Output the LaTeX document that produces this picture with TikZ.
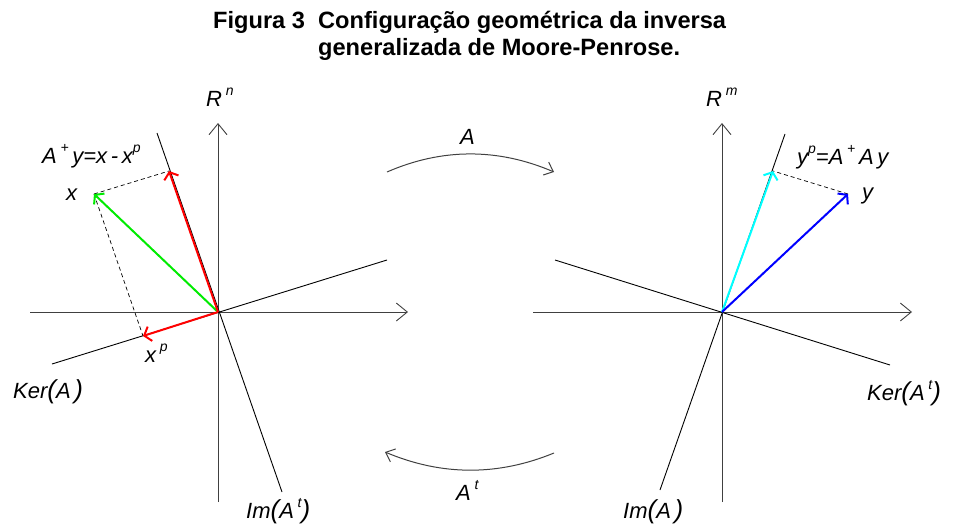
\documentclass[tikz,border=0pt]{standalone}
\usepackage{fontspec}
\setmainfont{Liberation Sans}
\usetikzlibrary{arrows.meta}
\definecolor{vgreen}{RGB}{0,235,0}
\definecolor{vred}{RGB}{255,0,0}
\definecolor{vcyan}{RGB}{0,255,255}
\definecolor{vblue}{RGB}{0,0,255}
\newcommand\lpar{{\fontsize{26}{26}\selectfont(}}
\newcommand\rpar{{\fontsize{26}{26}\selectfont)}}
\newcommand\spx[1]{\raisebox{0.5em}{\fontsize{14}{14}\selectfont\itshape #1}}
\begin{document}
\begin{tikzpicture}[x=1pt,y=-1pt,
  axis/.style={draw=black!75, line width=0.9pt, -{Straight Barb[length=11pt,width=18pt,line width=0.9pt]}},
  subsp/.style={draw=black, line width=0.9pt},
  vec/.style={line width=2pt, -{Straight Barb[length=6pt,width=15pt,line width=2pt]}},
  proj/.style={draw=black, line width=0.7pt, dash pattern=on 4pt off 3pt},
  mapping/.style={draw=black!75, line width=1pt, -{Straight Barb[length=8pt,width=14pt,line width=1pt]}},
  lbl/.style={font=\fontsize{22}{24}\selectfont\itshape, inner sep=0pt, anchor=base west},
  ttl/.style={font=\fontsize{23.6}{26}\selectfont\bfseries, inner sep=0pt, anchor=base west}]
\useasboundingbox (0,0) rectangle (956,525);
% title
\node[ttl] (t1) at (213,28) {Figura 3};
\node[ttl] (t2) at (318,28) {Configuração geométrica da inversa};
\node[ttl] (t3) at (318,55) {generalizada de Moore-Penrose.};
% ---------- left space
\coordinate (O1) at (218,312);
\coordinate (L1l) at (30,312);
\coordinate (L1r) at (408,312);
\coordinate (L1b) at (218,502);
\coordinate (L1t) at (218,123);
\coordinate (K1a) at (52,364);
\coordinate (K1b) at (387,260);
\coordinate (I1a) at (157,133);
\coordinate (I1b) at (282,492);
\coordinate (xp) at (143,336);
\coordinate (xx) at (94,194);
\coordinate (ay) at (169,171);
\draw[axis] (L1l) -- (L1r);
\draw[axis] (L1b) -- (L1t);
\draw[subsp] (K1a) -- (K1b);
\draw[subsp] (I1a) -- (I1b);
\draw[proj] (xx) -- (ay);
\draw[proj] (xx) -- (xp);
\draw[vec, draw=vgreen] (O1) -- (xx);
\draw[vec, draw=vred] (O1) -- (ay);
\draw[vec, draw=vred] (O1) -- (xp);
\node[lbl] (Rn) at (206,106) {R\,\spx{n}};
\node[lbl] (lAy) at (42,163) {A\,\spx{+}\,y=x\,-\,x\spx{p}};
\node[lbl] (lx) at (66,200) {x};
\node[lbl] (lxp) at (145,362) {x\,\spx{p}};
\node[lbl] (lker1) at (13,398) {Ker\lpar A\,\rpar};
\node[lbl] (lim1) at (246,518) {Im\lpar A\,\spx{t}\rpar};
% ---------- right space
\coordinate (O2) at (722,312);
\coordinate (L2l) at (533,312);
\coordinate (L2r) at (912,312);
\coordinate (L2b) at (722,502);
\coordinate (L2t) at (722,123);
\coordinate (K2a) at (555,260);
\coordinate (K2b) at (890,365);
\coordinate (I2a) at (785,134);
\coordinate (I2b) at (660,490);
\coordinate (yp) at (773,171);
\coordinate (yy) at (848,194);
\draw[axis] (L2l) -- (L2r);
\draw[axis] (L2b) -- (L2t);
\draw[subsp] (K2a) -- (K2b);
\draw[subsp] (I2a) -- (I2b);
\draw[proj] (yy) -- (yp);
\draw[vec, draw=vcyan] (O2) -- (yp);
\draw[vec, draw=vblue] (O2) -- (yy);
\node[lbl] (Rm) at (706,106) {R\,\spx{m}};
\node[lbl] (lyp) at (797,164) {y\spx{p}=A\,\spx{+}\,A\,y};
\node[lbl] (ly) at (862,199) {y};
\node[lbl] (lker2) at (867,400) {Ker\lpar A\,\spx{t}\rpar};
\node[lbl] (lim2) at (623,518) {Im\lpar A\,\rpar};
% ---------- mappings
\coordinate (m1s) at (387,172);
\coordinate (m1e) at (554,172);
\coordinate (m2s) at (554,453);
\coordinate (m2e) at (385,452);
\draw[mapping] (m1s) .. controls (442,148) and (498,148) .. (m1e);
\draw[mapping] (m2s) .. controls (498,476) and (442,476) .. (m2e);
\node[lbl] (lA) at (460,144) {A};
\node[lbl] (lAt) at (456,500) {A\,\spx{t}};
\end{tikzpicture}
\end{document}
